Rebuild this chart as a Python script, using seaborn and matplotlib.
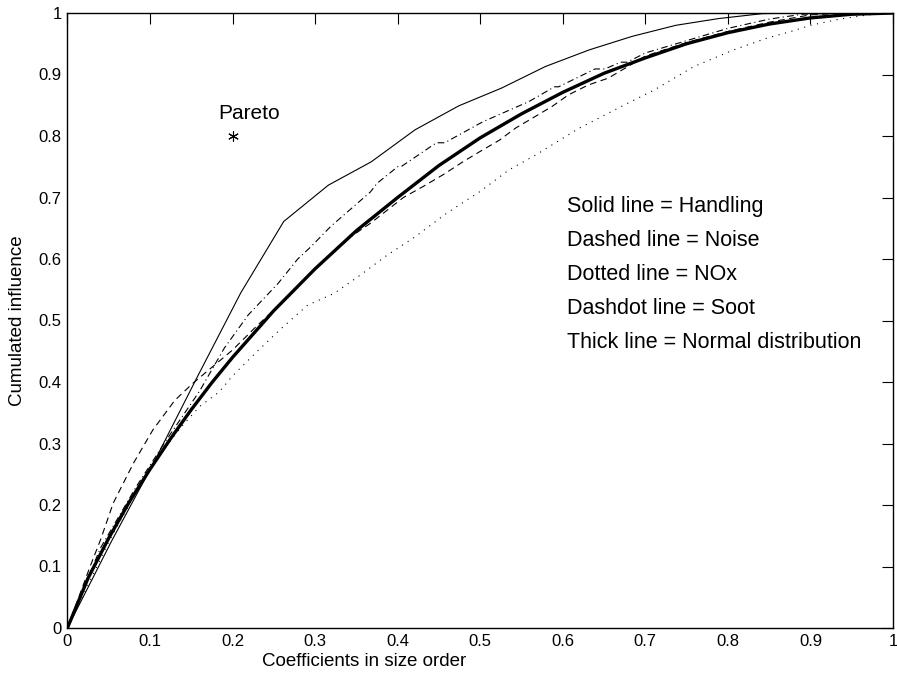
import matplotlib
matplotlib.use('Agg')
import matplotlib.pyplot as plt
import seaborn as sns
import pandas as pd

# Cumulated influence curves
normal_x = [0, 0.025, 0.05, 0.075, 0.1, 0.125, 0.15, 0.175, 0.2, 0.25, 0.3, 0.35,
            0.4, 0.45, 0.5, 0.55, 0.6, 0.65, 0.7, 0.75, 0.8, 0.85, 0.9, 0.95, 1.0]
normal_y = [0, 0.081, 0.146, 0.205, 0.258, 0.308, 0.355, 0.399, 0.44, 0.516, 0.584, 0.646,
            0.70, 0.752, 0.797, 0.836, 0.871, 0.902, 0.927, 0.95, 0.968, 0.982, 0.992, 0.998, 1.0]

handling_x = [0, 0.053, 0.105, 0.158, 0.21, 0.262, 0.316, 0.368, 0.421, 0.474, 0.526,
              0.579, 0.632, 0.684, 0.737, 0.789, 0.842, 0.895, 0.947, 1.0]
handling_y = [0, 0.14, 0.27, 0.41, 0.545, 0.661, 0.72, 0.758, 0.81, 0.849, 0.878,
              0.913, 0.94, 0.962, 0.98, 0.991, 0.999, 1.0, 1.0, 1.0]

noise_x = [0, 0.0275, 0.04, 0.0555, 0.08, 0.1035, 0.13, 0.152, 0.2, 0.227, 0.26, 0.3,
           0.343, 0.367, 0.407, 0.431, 0.455, 0.479, 0.5, 0.523, 0.543, 0.567, 0.587,
           0.607, 0.631, 0.655, 0.679, 0.7, 0.75, 0.8, 0.85, 0.9, 0.95, 1.0]
noise_y = [0, 0.10, 0.143, 0.203, 0.268, 0.322, 0.37, 0.398, 0.452, 0.488, 0.53, 0.585,
           0.636, 0.658, 0.70, 0.718, 0.737, 0.758, 0.775, 0.793, 0.813, 0.832, 0.848,
           0.867, 0.883, 0.894, 0.913, 0.93, 0.952, 0.97, 0.985, 0.997, 1.0, 1.0]

nox_x = [0, 0.05, 0.1, 0.138, 0.16, 0.184, 0.2, 0.23, 0.259, 0.291, 0.323, 0.355, 0.387,
         0.42, 0.46, 0.5, 0.535, 0.567, 0.619, 0.671, 0.711, 0.759, 0.807, 0.847, 0.879,
         0.9, 0.935, 0.97, 1.0]
nox_y = [0, 0.14, 0.262, 0.327, 0.36, 0.384, 0.41, 0.45, 0.487, 0.525, 0.544, 0.574, 0.606,
         0.635, 0.675, 0.71, 0.745, 0.769, 0.812, 0.848, 0.875, 0.913, 0.94, 0.959, 0.971,
         0.98, 0.99, 0.997, 1.0]

soot_x = [0, 0.04, 0.0835, 0.12, 0.16, 0.19, 0.219, 0.255, 0.279, 0.295, 0.319, 0.367,
          0.375, 0.4, 0.404, 0.447, 0.457, 0.503, 0.559, 0.59, 0.595, 0.639, 0.651, 0.67,
          0.678, 0.7, 0.75, 0.8, 0.85, 0.89, 0.95, 1.0]
soot_y = [0, 0.13, 0.23, 0.306, 0.385, 0.455, 0.509, 0.56, 0.60, 0.62, 0.653, 0.709,
          0.723, 0.75, 0.75, 0.789, 0.789, 0.823, 0.856, 0.88, 0.88, 0.909, 0.909, 0.92,
          0.92, 0.935, 0.955, 0.975, 0.99, 0.998, 1.0, 1.0]

pareto_x = [0.2]
pareto_y = [0.8]

legend_lines = ['Solid line = Handling', 'Dashed line = Noise', 'Dotted line = NOx',
                'Dashdot line = Soot', 'Thick line = Normal distribution']

sns.set_style('white')
plt.rcParams['font.family'] = ['Liberation Sans', 'DejaVu Sans']
plt.rcParams['text.color'] = 'black'

fig = plt.figure(figsize=(8.97, 6.73), dpi=100)
ax = fig.add_axes([67.4 / 897, 45 / 673, 825.6 / 897, 615 / 673])

series = [
    (handling_x, handling_y, '-', 0.8),
    (noise_x, noise_y, (0, (6, 4)), 0.8),
    (nox_x, nox_y, (0, (1, 5)), 0.8),
    (soot_x, soot_y, (0, (6, 3, 1, 3)), 0.8),
    (normal_x, normal_y, '-', 2.4),
]
for xs, ys, ls, lw in series:
    df = pd.DataFrame({'x': xs, 'y': ys})
    sns.lineplot(data=df, x='x', y='y', ax=ax, color='black', linestyle=ls,
                 linewidth=lw, estimator=None, sort=False)

sns.scatterplot(x=pareto_x, y=pareto_y, ax=ax, marker=(6, 2, 0), s=50,
                color='black', linewidth=0.8)
ax.text(0.1824, 0.837, 'Pareto', fontsize=15, va='center', ha='left')

for i, line in enumerate(legend_lines):
    ax.text(0.605, 0.686 - i * 0.0553, line, fontsize=15.5, va='center', ha='left')

ax.set_xlim(0, 1)
ax.set_ylim(0, 1)
ticks = [i / 10 for i in range(11)]
ticklabels = ['0'] + [f'{t:.1f}' for t in ticks[1:-1]] + ['1']
ax.set_xticks(ticks)
ax.set_xticklabels(ticklabels)
ax.set_yticks(ticks)
ax.set_yticklabels(ticklabels)
ax.tick_params(direction='in', length=8, width=0.8, top=True, right=True,
               labelsize=12, colors='black', pad=4)
for sp in ax.spines.values():
    sp.set_color('black')
    sp.set_linewidth(1.0)

ax.set_xlabel('')
ax.set_ylabel('')
ax.text(0.36, -0.055, 'Coefficients in size order', transform=ax.transAxes,
        fontsize=13.5, ha='center', va='center')
ax.text(-0.061, 0.5, 'Cumulated influence', transform=ax.transAxes,
        fontsize=13.5, ha='center', va='center', rotation=90)

fig.savefig('out.png', dpi=100)
